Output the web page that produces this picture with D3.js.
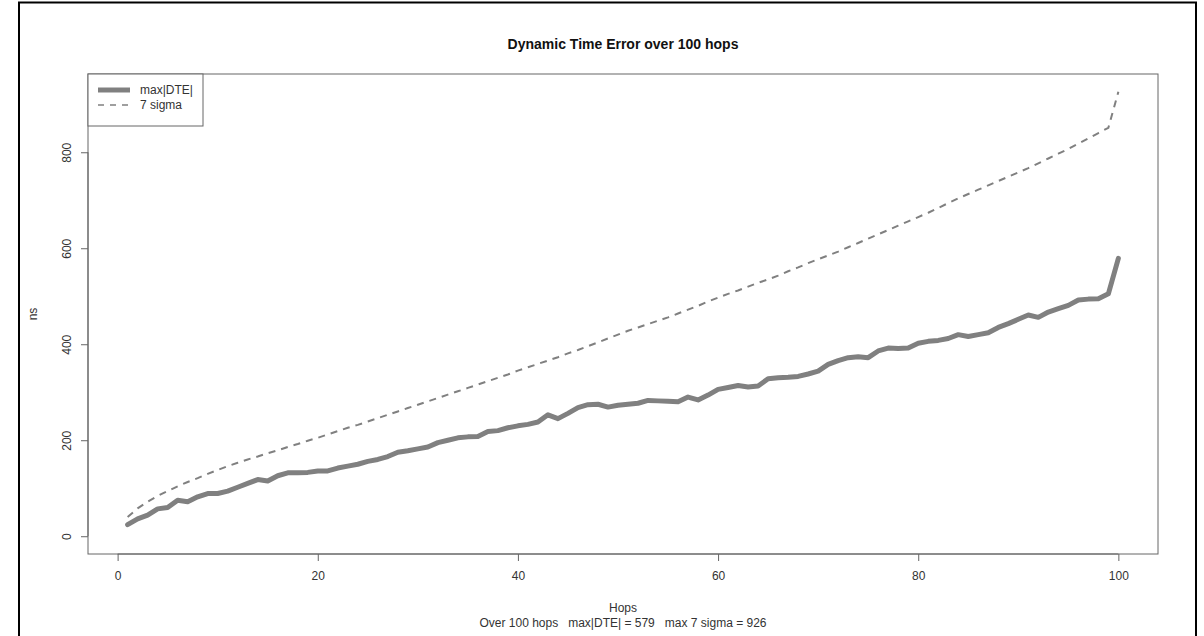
<!DOCTYPE html>
<html>
<head>
<meta charset="utf-8">
<script src="https://cdn.jsdelivr.net/npm/d3@7"></script>
<style>
  body { margin: 0; background: #fff; }
  svg { font-family: "Liberation Sans", Arial, sans-serif; }
</style>
</head>
<body>
<div id="chart"></div>
<script>
// hops 1..100
const hops = d3.range(1, 101);

const maxDTE = [
  24, 36, 44, 57, 60, 75, 72, 82, 89, 89,
  94, 102, 110, 118, 115, 126, 132, 132, 133, 136,
  136, 142, 146, 150, 156, 160, 166, 175, 178, 182,
  186, 195, 200, 205, 207, 208, 218, 220, 226, 230,
  233, 238, 253, 245, 256, 268, 274, 275, 269, 273,
  275, 277, 283, 282, 281, 280, 290, 284, 294, 306,
  310, 314, 311, 313, 328, 330, 331, 333, 338, 344,
  358, 366, 372, 374, 372, 386, 392, 391, 392, 402,
  406, 408, 412, 420, 416, 420, 424, 435, 443, 452,
  461, 456, 467, 474, 481, 492, 494, 495, 505, 579
];

const sigma7 = [
  40, 58, 72, 84, 94, 104, 113, 121, 130, 138,
  146, 153, 160, 166, 173, 179, 186, 192, 199, 205,
  212, 219, 226, 232, 239, 246, 253, 260, 267, 274,
  281, 288, 295, 302, 309, 316, 323, 330, 337, 345,
  352, 359, 366, 373, 381, 388, 396, 404, 412, 420,
  428, 435, 442, 449, 456, 464, 472, 480, 489, 497,
  505, 512, 520, 528, 535, 543, 552, 560, 569, 577,
  585, 593, 602, 611, 620, 629, 638, 647, 656, 665,
  674, 684, 694, 704, 713, 722, 731, 740, 749, 758,
  767, 777, 787, 797, 807, 818, 829, 840, 851, 926
];

const xTicks = [0, 20, 40, 60, 80, 100];
const yTicks = [0, 200, 400, 600, 800];

const legendLabels = ["max|DTE|", "7 sigma"];

const width = 1204, height = 636;
const margin = { top: 74, right: 46, bottom: 82, left: 88 };

const svg = d3.select("#chart").append("svg")
  .attr("width", width)
  .attr("height", height);

// outer frame of the screenshot
svg.append("path")
  .attr("d", `M19,${height} V2.5 H1196 V${height}`)
  .attr("fill", "none")
  .attr("stroke", "#000")
  .attr("stroke-width", 2);

// R style 4% axis extension
const xExt = (100 - 1) * 0.04;
const yMax = d3.max(sigma7);
const yExt = yMax * 0.04;

const x = d3.scaleLinear()
  .domain([1 - xExt, 100 + xExt])
  .range([margin.left, width - margin.right]);

const y = d3.scaleLinear()
  .domain([0 - yExt, yMax + yExt])
  .range([height - margin.bottom, margin.top]);

const textColor = "#333";
const axisColor = "#666";

// axes
const xAxis = svg.append("g")
  .attr("transform", `translate(0,${height - margin.bottom})`)
  .call(d3.axisBottom(x).tickValues(xTicks).tickSize(7).tickPadding(10));
xAxis.select(".domain").attr("d", `M${x(0)},0H${x(100)}`);

const yAxis = svg.append("g")
  .attr("transform", `translate(${margin.left},0)`)
  .call(d3.axisLeft(y).tickValues(yTicks).tickSize(7).tickPadding(0));
yAxis.select(".domain").attr("d", `M0,${y(0)}V${y(800)}`);
yAxis.selectAll(".tick text")
  .attr("text-anchor", "middle")
  .attr("transform", "translate(-21,0) rotate(-90)")
  .attr("dy", "0.35em")
  .attr("x", 0);

svg.selectAll(".domain, .tick line").attr("stroke", axisColor);
svg.selectAll(".tick text")
  .attr("fill", textColor)
  .attr("font-size", 12)
  .attr("font-family", "Liberation Sans, Arial, sans-serif");

// plot box
svg.append("rect")
  .attr("x", margin.left)
  .attr("y", margin.top)
  .attr("width", width - margin.left - margin.right)
  .attr("height", height - margin.top - margin.bottom)
  .attr("fill", "none")
  .attr("stroke", axisColor)
  .attr("stroke-width", 1);

// lines
const line = d3.line()
  .x((d, i) => x(hops[i]))
  .y(d => y(d));

svg.append("path")
  .datum(sigma7)
  .attr("d", line)
  .attr("fill", "none")
  .attr("stroke", "#808080")
  .attr("stroke-width", 2)
  .attr("stroke-dasharray", "7,6");

svg.append("path")
  .datum(maxDTE)
  .attr("d", line)
  .attr("fill", "none")
  .attr("stroke", "#808080")
  .attr("stroke-width", 5)
  .attr("stroke-linejoin", "round")
  .attr("stroke-linecap", "round");

// titles
svg.append("text")
  .attr("x", (margin.left + width - margin.right) / 2)
  .attr("y", 49)
  .attr("text-anchor", "middle")
  .attr("font-size", 14)
  .attr("font-weight", "bold")
  .attr("fill", "#111")
  .text("Dynamic Time Error over 100 hops");

svg.append("text")
  .attr("x", (margin.left + width - margin.right) / 2)
  .attr("y", 612)
  .attr("text-anchor", "middle")
  .attr("font-size", 12)
  .attr("fill", textColor)
  .text("Hops");

svg.append("text")
  .attr("x", (margin.left + width - margin.right) / 2)
  .attr("y", 627)
  .attr("text-anchor", "middle")
  .attr("font-size", 12)
  .attr("fill", textColor)
  .attr("xml:space", "preserve")
  .text(`Over 100 hops   max|DTE| = ${d3.max(maxDTE)}   max 7 sigma = ${d3.max(sigma7)}`);

svg.append("text")
  .attr("transform", `translate(37,${(margin.top + height - margin.bottom) / 2}) rotate(-90)`)
  .attr("text-anchor", "middle")
  .attr("font-size", 12)
  .attr("fill", textColor)
  .text("ns");

// legend
const legend = svg.append("g").attr("transform", `translate(${margin.left},${margin.top})`);
legend.append("rect")
  .attr("width", 115)
  .attr("height", 52)
  .attr("fill", "#fff")
  .attr("stroke", axisColor);

const legendRow = legend.selectAll(".legend-row")
  .data(legendLabels)
  .join("g")
  .attr("class", "legend-row")
  .attr("transform", (d, i) => `translate(0,${16 + i * 15})`);

legendRow.append("line")
  .attr("x1", 10)
  .attr("x2", 42)
  .attr("stroke", "#808080")
  .attr("stroke-width", (d, i) => (i ? 1.5 : 5))
  .attr("stroke-dasharray", (d, i) => (i ? "6,6" : null));

legendRow.append("text")
  .attr("x", 52)
  .attr("dy", "0.35em")
  .attr("font-size", 12)
  .attr("fill", textColor)
  .text(d => d);
</script>
</body>
</html>
